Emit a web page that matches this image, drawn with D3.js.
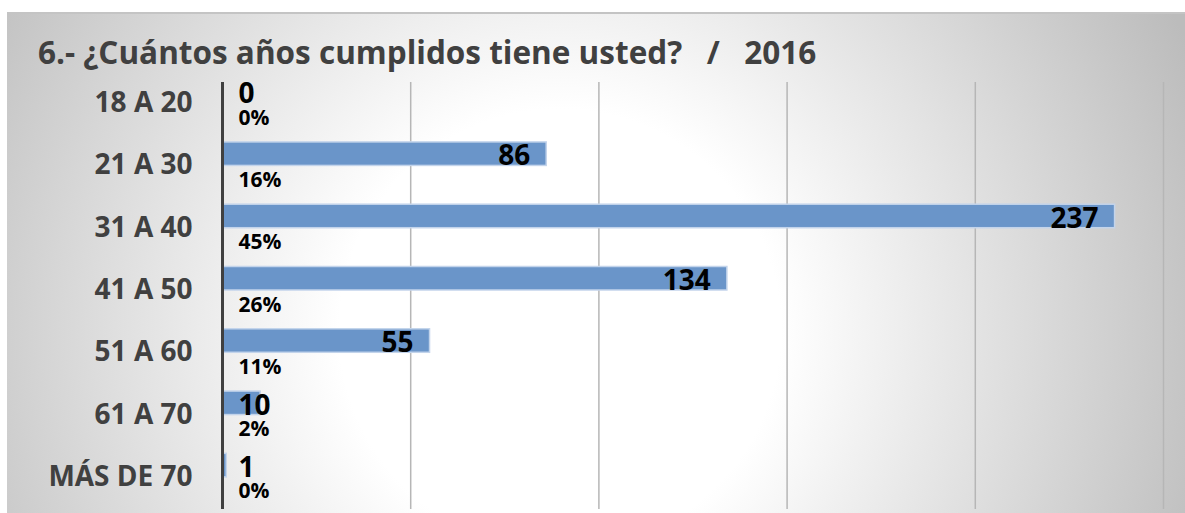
<!DOCTYPE html>
<html>
<head>
<meta charset="utf-8">
<script src="https://cdn.jsdelivr.net/npm/d3@7"></script>
<style>
  html, body { margin: 0; padding: 0; background: #ffffff; }
  svg { display: block; }
  text { font-family: "Open Sans", "Noto Sans", sans-serif; font-weight: 700; }
</style>
</head>
<body>
<svg id="chart" width="1185" height="513"></svg>
<script>
// Age groups of respondents, 2016 survey
const title = "6.- ¿Cuántos años cumplidos tiene usted?   /   2016";
const categories = ["18 A 20", "21 A 30", "31 A 40", "41 A 50", "51 A 60", "61 A 70", "MÁS DE 70"];
const counts = [0, 86, 237, 134, 55, 10, 1];
const percents = ["0%", "16%", "45%", "26%", "11%", "2%", "0%"];
const gridTicks = [50, 100, 150, 200, 250];

const W = 1185, H = 513;
const svg = d3.select("#chart");

// Panel background: soft radial grey-to-white fill
const defs = svg.append("defs");
const grad = defs.append("radialGradient")
  .attr("id", "panelFill")
  .attr("gradientUnits", "userSpaceOnUse")
  .attr("cx", 560).attr("cy", 330).attr("r", 690);
grad.append("stop").attr("offset", 0).attr("stop-color", "#ffffff");
grad.append("stop").attr("offset", 0.32).attr("stop-color", "#ffffff");
grad.append("stop").attr("offset", 1).attr("stop-color", "#bcbcbc");

svg.append("rect")
  .attr("x", 7).attr("y", 13).attr("width", W - 7).attr("height", H - 13)
  .attr("fill", "url(#panelFill)");
svg.append("line")
  .attr("x1", 7).attr("x2", W).attr("y1", 13).attr("y2", 13)
  .attr("stroke", "#c4c4c4").attr("stroke-width", 2);

// Title
svg.append("text")
  .attr("x", 38).attr("y", 64)
  .attr("fill", "#404040")
  .style("font-size", "31.5px")
  .style("white-space", "pre")
  .attr("xml:space", "preserve")
  .text(title);

// Scales
const plotTop = 82, plotBottom = 509;
const x = d3.scaleLinear().domain([0, 250]).range([222.5, 1163.5]);
const y = d3.scaleBand().domain(categories).range([72, 508]);
const sub = d3.scaleBand().domain(["count", "pct"]).range([0, y.bandwidth()])
  .paddingInner(0).paddingOuter(0.325);

// Vertical gridlines
svg.append("g").selectAll("line").data(gridTicks).join("line")
  .attr("x1", d => x(d)).attr("x2", d => x(d))
  .attr("y1", plotTop).attr("y2", plotBottom)
  .attr("stroke", "#b6b6b6").attr("stroke-width", 1.5);

// Count bars
svg.append("g").selectAll("rect").data(categories).join("rect")
  .attr("x", x(0))
  .attr("y", (c) => y(c) + sub("count"))
  .attr("width", (c, i) => Math.max(0, x(counts[i]) - x(0)))
  .attr("height", sub.bandwidth())
  .attr("fill", "#6a95c9")
  .attr("stroke", (c, i) => counts[i] > 0 ? "#c3d4eb" : "none")
  .attr("stroke-width", 1.5);

// Category axis
const yAxis = svg.append("g")
  .attr("transform", `translate(${x(0)},0)`)
  .call(d3.axisLeft(y).tickSize(0).tickPadding(30));
yAxis.select(".domain").remove();
yAxis.selectAll("text")
  .attr("fill", "#404040")
  .style("font-size", "28px")
  .style("font-family", "'Open Sans', 'Noto Sans', sans-serif")
  .style("font-weight", 700);

svg.append("line")
  .attr("x1", x(0)).attr("x2", x(0))
  .attr("y1", plotTop).attr("y2", plotBottom)
  .attr("stroke", "#404040").attr("stroke-width", 3);

// Count labels at the inside end of each bar
const minLeft = x(0) + 16;
const valueLabels = svg.append("g").selectAll("text").data(categories).join("text")
  .attr("y", c => y(c) + sub("count") + sub.bandwidth())
  .attr("fill", "#000000")
  .style("font-size", "28px")
  .text((c, i) => counts[i]);
valueLabels.each(function (c, i) {
  const w = this.getComputedTextLength();
  const left = Math.max(minLeft, x(counts[i]) - 16 - w);
  d3.select(this).attr("x", left);
});

// Share labels below each bar
svg.append("g").selectAll("text").data(categories).join("text")
  .attr("x", x(0) + 16)
  .attr("y", c => y(c) + sub("pct") + 21.5)
  .attr("fill", "#000000")
  .style("font-size", "21px")
  .text((c, i) => percents[i]);
</script>
</body>
</html>
